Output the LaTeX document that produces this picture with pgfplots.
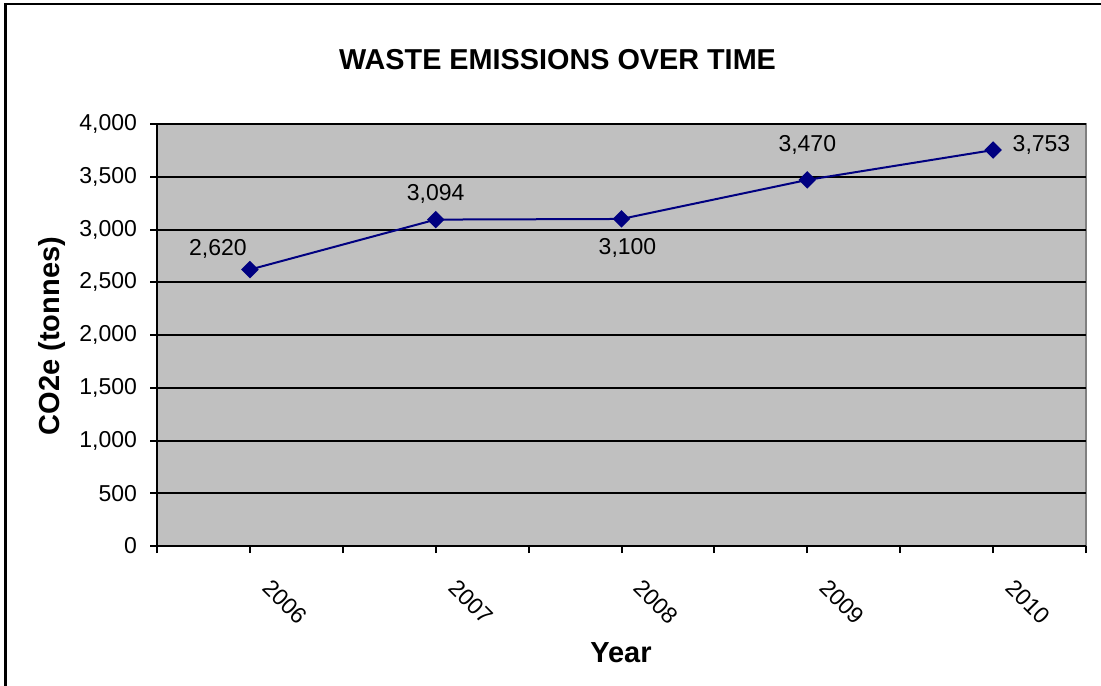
\documentclass[border=0pt]{standalone}
\usepackage{pgfplots}
\pgfplotsset{compat=1.18}
\usepackage{fontspec}
\setmainfont{Liberation Sans}
\definecolor{plotbg}{HTML}{C0C0C0}
\definecolor{plotborder}{HTML}{808080}
\definecolor{navyline}{HTML}{000080}
\begin{document}
\begin{tikzpicture}
\useasboundingbox (0,0) rectangle (550.5pt,-342.5pt);
\draw[black, line width=1.3pt] (2.65pt,-345pt) -- (2.65pt,-2pt) -- (553pt,-2pt);
\node[anchor=base, font=\fontsize{14.4}{16}\selectfont\bfseries] at (278.75pt,-34.7pt) {WASTE EMISSIONS OVER TIME};
\node[anchor=base, font=\fontsize{14.5}{16}\selectfont\bfseries] at (310.5pt,-331.3pt) {Year};
\node[anchor=base, rotate=90, font=\fontsize{14.5}{16}\selectfont\bfseries] at (29.5pt,-168pt) {CO2e (tonnes)};
\begin{axis}[
  at={(78.5pt,-273pt)}, anchor=south west,
  scale only axis, width=464.5pt, height=211pt,
  xmin=-0.5, xmax=4.5, ymin=0, ymax=4000,
  axis x line*=bottom, axis y line*=left,
  axis line style={-, black, line width=1pt},
  axis background/.style={fill=plotbg, draw=plotborder, line width=1pt},
  xtick={0,1,2,3,4},
  xticklabels={2006,2007,2008,2009,2010},
  minor xtick={-0.5,0.5,1.5,2.5,3.5,4.5},
  ytick={0,500,...,4000},
  tick align=outside,
  major tick length=3.5pt, minor tick length=3.5pt,
  tick style={black, line width=1pt},
  ymajorgrids, grid style={black, line width=1pt},
  xmajorgrids=false, xminorgrids=false,
  ticklabel style={font=\fontsize{11.5}{13}\selectfont},
  /pgf/number format/.cd, 1000 sep={,}, assume math mode=true,
  /pgfplots/.cd,
  yticklabel style={anchor=east, xshift=-3pt},
  xticklabel style={anchor=center, xshift=17.5pt, yshift=-24.3pt, rotate=-45},
  clip=false,
]
\addplot[navyline, line width=1pt, mark=square*, mark size=2.6pt, mark options={rotate=45, fill=navyline, draw=navyline}]
  coordinates {(0,2620) (1,3094) (2,3100) (3,3470) (4,3753)};
\begin{scope}[every node/.style={font=\fontsize{11.5}{13}\selectfont, anchor=center}]
\node[xshift=-16pt, yshift=10.5pt] at (axis cs:0,2620) {2,620};
\node[yshift=12.8pt] at (axis cs:1,3094) {3,094};
\node[xshift=3pt, yshift=-14.5pt] at (axis cs:2,3100) {3,100};
\node[yshift=17.4pt] at (axis cs:3,3470) {3,470};
\node[xshift=24.2pt, yshift=2.8pt] at (axis cs:4,3753) {3,753};
\end{scope}
\end{axis}
\end{tikzpicture}
\end{document}
